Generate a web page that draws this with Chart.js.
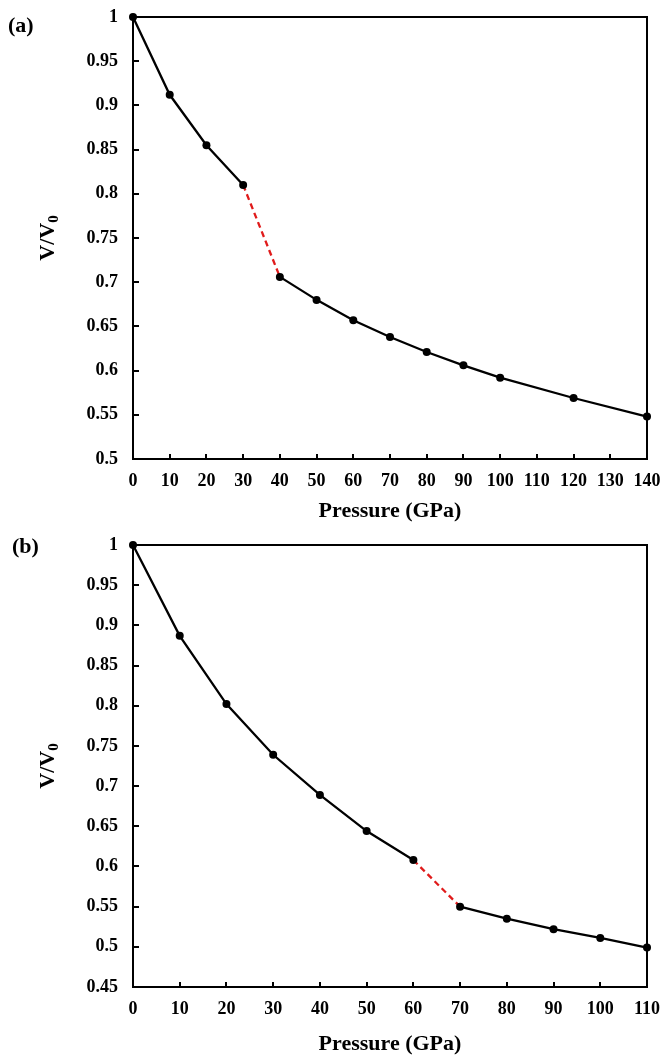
<!DOCTYPE html>
<html>
<head>
<meta charset="utf-8">
<script src="https://cdn.jsdelivr.net/npm/chart.js@4/dist/chart.umd.min.js"></script>
<style>
  html, body { margin: 0; padding: 0; background: #fff; }
  .panel { position: relative; width: 662px; }
  #wrapA { height: 530px; }
  #wrapB { height: 529px; }
</style>
</head>
<body>
<div class="panel" id="wrapA"><canvas id="chartA"></canvas></div>
<div class="panel" id="wrapB"><canvas id="chartB"></canvas></div>
<script>
// ---- Data ----
const pressureA = [0, 10, 20, 30, 40, 50, 60, 70, 80, 90, 100, 120, 140];
const volumeA   = [1, 0.912, 0.855, 0.810, 0.706, 0.680, 0.657, 0.638, 0.621, 0.606, 0.592, 0.569, 0.548];
const transitionA = [30, 40];

const pressureB = [0, 10, 20, 30, 40, 50, 60, 70, 80, 90, 100, 110];
const volumeB   = [1, 0.887, 0.802, 0.739, 0.689, 0.644, 0.608, 0.550, 0.535, 0.522, 0.511, 0.499];
const transitionB = [60, 70];

const xTicksA = [0, 140, 10];
const yTicksA = [0.5, 1, 0.05];
const xTicksB = [0, 110, 10];
const yTicksB = [0.45, 1, 0.05];

const FONT = "'Liberation Serif', 'Times New Roman', serif";

function makeChart(id, label, xs, ys, trans, xr, yr, pad, xScaleH, labelY) {
  const pts = xs.map((x, i) => ({x: x, y: ys[i]}));
  const isTrans = c => c.p0.parsed.x === trans[0] && c.p1.parsed.x === trans[1];
  const decor = {
    id: 'decor' + id,
    beforeDatasetsDraw(chart) {
      const {ctx, chartArea: a, scales} = chart;
      ctx.save();
      ctx.strokeStyle = '#000';
      ctx.lineWidth = 2;
      ctx.strokeRect(a.left, a.top, a.right - a.left, a.bottom - a.top);
      // inward ticks
      scales.x.ticks.forEach(t => {
        const px = Math.round(scales.x.getPixelForValue(t.value));
        ctx.beginPath(); ctx.moveTo(px, a.bottom); ctx.lineTo(px, a.bottom - 5); ctx.stroke();
      });
      scales.y.ticks.forEach(t => {
        const py = Math.round(scales.y.getPixelForValue(t.value));
        ctx.beginPath(); ctx.moveTo(a.left, py); ctx.lineTo(a.left + 6, py); ctx.stroke();
      });
      ctx.restore();
    },
    afterDraw(chart) {
      const {ctx, chartArea: a} = chart;
      ctx.save();
      ctx.fillStyle = '#000';
      // panel label
      ctx.font = 'bold 22px ' + FONT;
      ctx.textBaseline = 'middle';
      ctx.textAlign = 'left';
      ctx.fillText(label.text, label.x, labelY);
      // y axis title V/V0
      const cy = (a.top + a.bottom) / 2;
      ctx.translate(47, cy);
      ctx.rotate(-Math.PI / 2);
      ctx.textBaseline = 'alphabetic';
      ctx.font = 'bold 22px ' + FONT;
      const w1 = ctx.measureText('V/V').width;
      ctx.font = 'bold 15px ' + FONT;
      const w2 = ctx.measureText('0').width;
      const sx = -(w1 + w2) / 2;
      ctx.font = 'bold 22px ' + FONT;
      ctx.fillText('V/V', sx, 7);
      ctx.font = 'bold 15px ' + FONT;
      ctx.fillText('0', sx + w1, 11);
      ctx.restore();
    }
  };
  return new Chart(document.getElementById(id), {
    type: 'line',
    data: {
      datasets: [{
        data: pts,
        borderColor: '#000',
        borderWidth: 2.3,
        pointRadius: 4,
        pointBackgroundColor: '#000',
        pointBorderColor: '#000',
        pointBorderWidth: 0,
        clip: false,
        tension: 0,
        segment: {
          borderColor: c => isTrans(c) ? '#e01b1b' : '#000',
          borderDash: c => isTrans(c) ? [6, 4] : undefined
        }
      }]
    },
    options: {
      responsive: true,
      maintainAspectRatio: false,
      animation: false,
      layout: { padding: pad },
      plugins: { legend: { display: false }, tooltip: { enabled: false } },
      scales: {
        x: {
          type: 'linear',
          min: xr[0], max: xr[1],
          border: { display: false },
          grid: { display: false, drawTicks: false },
          ticks: {
            stepSize: xr[2], padding: 12, color: '#000',
            font: { family: FONT, size: 18, weight: 'bold' },
            maxRotation: 0, autoSkip: false
          },
          title: {
            display: true, text: 'Pressure (GPa)', color: '#000',
            font: { family: FONT, size: 22, weight: 'bold' },
            padding: { top: 0, bottom: xScaleH.titlePad }
          },
          afterFit: s => {
            s.height = xScaleH.h;
            s.paddingLeft = 0; s.paddingRight = 0; s.paddingTop = 0; s.paddingBottom = 0;
          }
        },
        y: {
          type: 'linear',
          min: yr[0], max: yr[1],
          border: { display: false },
          grid: { display: false, drawTicks: false },
          ticks: {
            stepSize: yr[2], padding: 15, color: '#000',
            font: { family: FONT, size: 18, weight: 'bold' },
            callback: v => String(+v.toFixed(2))
          },
          afterFit: s => {
            s.width = 133;
            s.paddingLeft = 0; s.paddingRight = 0; s.paddingTop = 0; s.paddingBottom = 0;
          }
        }
      }
    },
    plugins: [decor]
  });
}

makeChart('chartA', {text: '(a)', x: 8}, pressureA, volumeA, transitionA, xTicksA, yTicksA,
  {left: 0, right: 15, top: 17, bottom: 0}, {h: 71, titlePad: 5}, 26);
makeChart('chartB', {text: '(b)', x: 12}, pressureB, volumeB, transitionB, xTicksB, yTicksB,
  {left: 0, right: 15, top: 15, bottom: 0}, {h: 72, titlePad: 1}, 17);
</script>
</body>
</html>
